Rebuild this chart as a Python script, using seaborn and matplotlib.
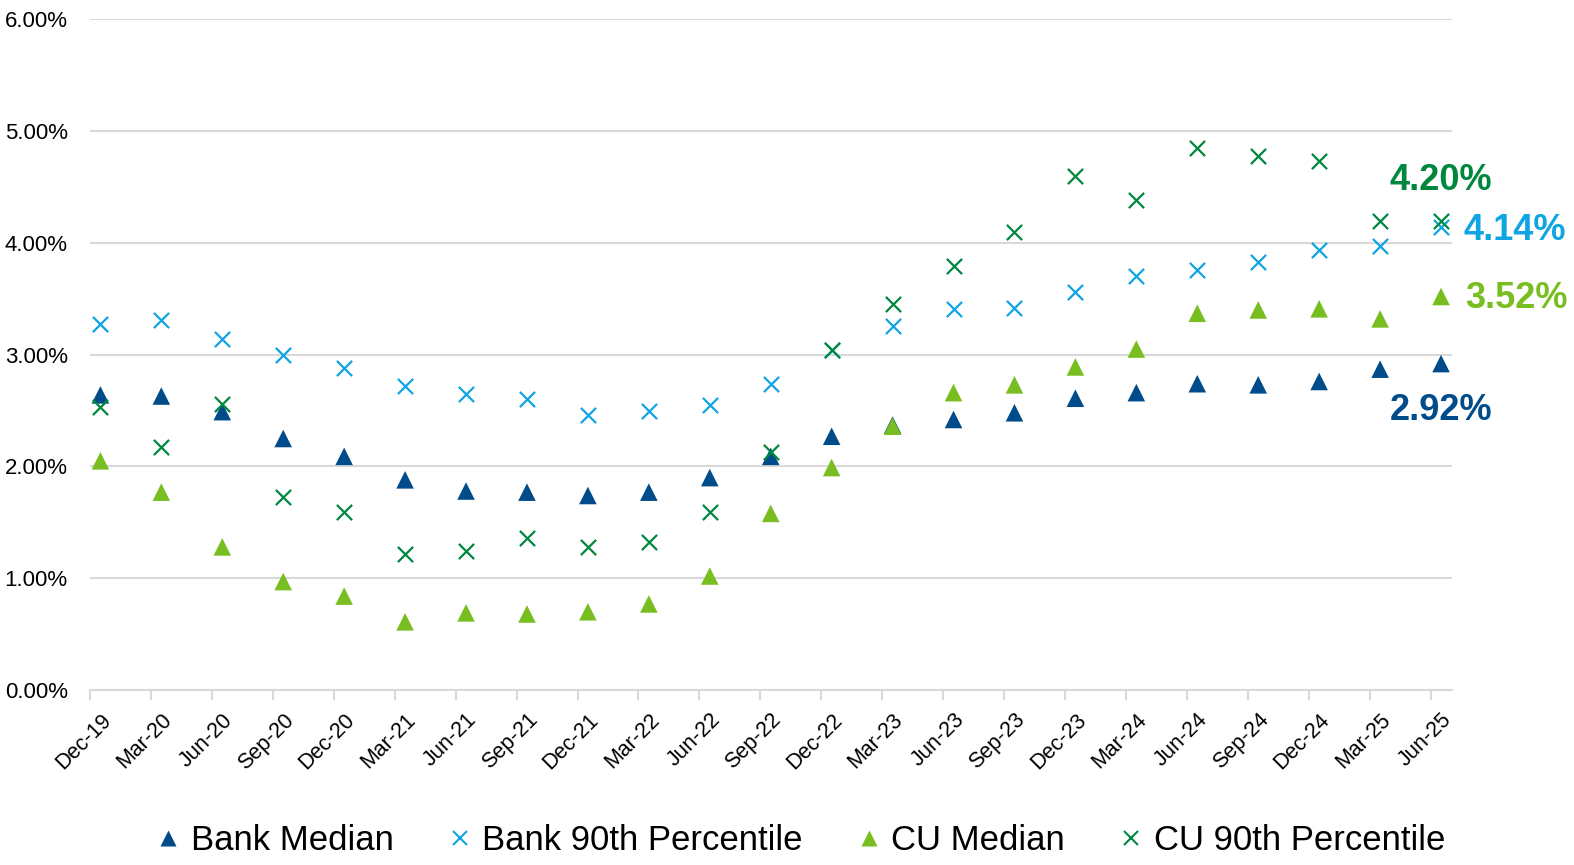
import pandas as pd
import numpy as np
import seaborn as sns
import matplotlib.pyplot as plt
from matplotlib.lines import Line2D
from matplotlib.ticker import FuncFormatter, FixedLocator

quarters = ['Dec-19', 'Mar-20', 'Jun-20', 'Sep-20', 'Dec-20', 'Mar-21', 'Jun-21', 'Sep-21',
            'Dec-21', 'Mar-22', 'Jun-22', 'Sep-22', 'Dec-22', 'Mar-23', 'Jun-23', 'Sep-23',
            'Dec-23', 'Mar-24', 'Jun-24', 'Sep-24', 'Dec-24', 'Mar-25', 'Jun-25']
bank_median = [2.64, 2.63, 2.49, 2.25, 2.09, 1.88, 1.78, 1.77, 1.74, 1.77, 1.90, 2.09,
               2.27, 2.37, 2.42, 2.48, 2.61, 2.66, 2.74, 2.73, 2.76, 2.87, 2.92]
bank_p90 = [3.27, 3.31, 3.14, 3.00, 2.88, 2.72, 2.65, 2.60, 2.46, 2.50, 2.55, 2.74,
            3.04, 3.26, 3.41, 3.42, 3.56, 3.70, 3.76, 3.83, 3.94, 3.97, 4.14]
cu_median = [2.05, 1.77, 1.28, 0.97, 0.84, 0.61, 0.69, 0.68, 0.70, 0.77, 1.02, 1.58,
             1.99, 2.36, 2.66, 2.73, 2.89, 3.05, 3.37, 3.40, 3.41, 3.32, 3.52]
cu_p90 = [2.53, 2.17, 2.56, 1.73, 1.59, 1.22, 1.24, 1.36, 1.28, 1.32, 1.59, 2.13,
          3.04, 3.45, 3.79, 4.10, 4.60, 4.38, 4.85, 4.78, 4.73, 4.20, 4.20]

series = ['Bank Median', 'Bank 90th Percentile', 'CU Median', 'CU 90th Percentile']
colors = {'Bank Median': '#004C8A', 'Bank 90th Percentile': '#0FA4E2',
          'CU Median': '#78BE21', 'CU 90th Percentile': '#00873E'}
markers = {'Bank Median': '^', 'Bank 90th Percentile': 'x',
           'CU Median': '^', 'CU 90th Percentile': 'x'}

# points sit a bit to the right of the quarter tick (date axis in the original)
xpos = np.arange(len(quarters)) + 0.17
df = pd.DataFrame({'x': np.tile(xpos, 4),
                   'value': bank_median + bank_p90 + cu_median + cu_p90,
                   'series': np.repeat(series, len(quarters))})

sns.set_style('white')
plt.rcParams['font.family'] = ['Liberation Sans', 'DejaVu Sans']
plt.rcParams['text.color'] = 'black'
plt.rcParams['xtick.color'] = 'black'
plt.rcParams['ytick.color'] = 'black'

fig = plt.figure(figsize=(15.74, 8.65), dpi=100)
ax = fig.add_axes([0.0572, 0.2023, 0.8653, 0.7754])

for s in series:
    d = df[df.series == s]
    if markers[s] == '^':
        sns.scatterplot(data=d, x='x', y='value', marker='^', color=colors[s], s=160,
                        edgecolor='none', ax=ax, zorder=3)
    else:
        sns.scatterplot(data=d, x='x', y='value', marker='x', color=colors[s], s=120,
                        linewidth=1.6, ax=ax, zorder=3)

ax.set_xlim(0, 22.35)
ax.set_ylim(0, 6)
ax.set_yticks(np.arange(0, 7, 1))
ax.yaxis.set_major_formatter(FuncFormatter(lambda v, p: f'{v:.2f}%'))
ax.grid(axis='y', color='#D9D9D9', linewidth=1.5)
ax.set_axisbelow(True)
ax.set_xlabel('')
ax.set_ylabel('')
for sp in ['left', 'right', 'top']:
    ax.spines[sp].set_visible(False)
ax.spines['bottom'].set_color('#D9D9D9')
ax.spines['bottom'].set_linewidth(1.5)

ax.xaxis.set_major_locator(FixedLocator(np.arange(len(quarters))))
ax.set_xticklabels([])
ax.tick_params(axis='x', which='major', direction='out', length=7, width=1.5,
               color='#D9D9D9', bottom=True)
ax.set_xticks(xpos, minor=True)
ax.set_xticklabels(quarters, minor=True, rotation=45, ha='right', va='top',
                   rotation_mode='anchor', fontsize=15.5)
ax.tick_params(axis='x', which='minor', length=0, pad=14)
ax.tick_params(axis='y', length=0, labelsize=16, pad=16)

lab_font = ['Liberation Sans', 'DejaVu Sans']
ax.text(22.17, 4.56, '4.20%', color=colors['CU 90th Percentile'], fontsize=26,
        fontweight='bold', ha='center', va='center', family=lab_font, clip_on=False)
ax.text(22.54, 4.11, '4.14%', color=colors['Bank 90th Percentile'], fontsize=26,
        fontweight='bold', ha='left', va='center', family=lab_font, clip_on=False)
ax.text(22.57, 3.50, '3.52%', color=colors['CU Median'], fontsize=26,
        fontweight='bold', ha='left', va='center', family=lab_font, clip_on=False)
ax.text(22.17, 2.50, '2.92%', color=colors['Bank Median'], fontsize=26,
        fontweight='bold', ha='center', va='center', family=lab_font, clip_on=False)

handles = []
for s in series:
    if markers[s] == '^':
        h = Line2D([], [], linestyle='none', marker='^', markersize=11,
                   markerfacecolor=colors[s], markeredgecolor='none')
    else:
        h = Line2D([], [], linestyle='none', marker='x', markersize=10,
                   markeredgewidth=1.5, color=colors[s])
    handles.append(h)
fig.legend(handles, series, loc='center', bbox_to_anchor=(0.508, 0.028), ncol=4,
           frameon=False, handletextpad=0.25, columnspacing=1.5,
           handlelength=0.8, prop={'family': lab_font, 'size': 25})

fig.savefig('out.png', dpi=100)
